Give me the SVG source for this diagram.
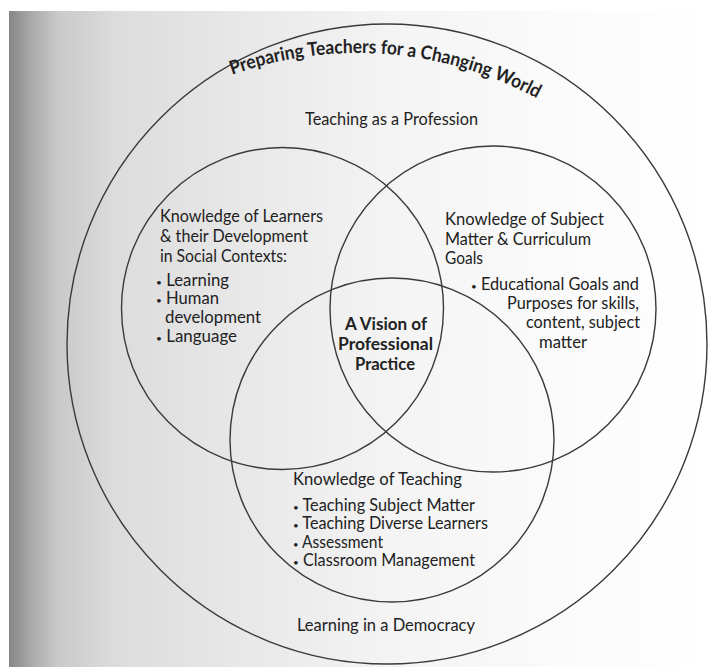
<svg xmlns="http://www.w3.org/2000/svg" width="711" height="667" viewBox="0 0 711 667">
  <defs>
    <linearGradient id="page" x1="9" y1="0" x2="711" y2="0" gradientUnits="userSpaceOnUse">
      <stop offset="0" stop-color="#858585"/>
      <stop offset="0.03" stop-color="#a8a8a8"/>
      <stop offset="0.07" stop-color="#c9c9c9"/>
      <stop offset="0.15" stop-color="#dcdcdc"/>
      <stop offset="0.35" stop-color="#e9e9e9"/>
      <stop offset="0.55" stop-color="#f4f4f4"/>
      <stop offset="0.8" stop-color="#fbfbfb"/>
      <stop offset="1" stop-color="#ffffff"/>
    </linearGradient>
    <path id="titleArc" d="M 232 74.8 A 375 375 0 0 1 537 98.5"/>
  </defs>
  <style>
    .ring { fill: none; stroke: #3a3a3a; stroke-width: 1.4; }
    .t { font-family: Lato, "Open Sans", "Liberation Sans", sans-serif; font-size: 16.5px; fill: #222222; }
    .b { font-weight: bold; }
    .dot { font-size: 10px; }
    .title { font-family: Lato, "Open Sans", "Liberation Sans", sans-serif; font-size: 19px; font-weight: bold; fill: #222222; }
  </style>

  <rect width="711" height="667" fill="#ffffff"/>
  <rect x="9" y="11" width="702" height="656" fill="url(#page)"/>

  <g id="world">
    <circle class="ring" cx="387" cy="344" r="320"/>
    <text class="title"><textPath href="#titleArc" textLength="315" lengthAdjust="spacingAndGlyphs">Preparing Teachers for a Changing World</textPath></text>
    <text class="t" x="305" y="125" textLength="173" lengthAdjust="spacingAndGlyphs">Teaching as a Profession</text>
    <text class="t" x="297" y="631" textLength="178" lengthAdjust="spacingAndGlyphs">Learning in a Democracy</text>
  </g>

  <g id="learners">
    <circle class="ring" cx="282.5" cy="308.5" r="161"/>
    <text class="t" x="160" y="222" textLength="163" lengthAdjust="spacingAndGlyphs">Knowledge of Learners</text>
    <text class="t" x="160" y="241.5" textLength="148" lengthAdjust="spacingAndGlyphs">&amp; their Development</text>
    <text class="t" x="160" y="261.5" textLength="127" lengthAdjust="spacingAndGlyphs">in Social Contexts:</text>
    <text class="t" x="156" y="285.5" textLength="73" lengthAdjust="spacingAndGlyphs"><tspan class="dot">•</tspan> Learning</text>
    <text class="t" x="156" y="303.5" textLength="63" lengthAdjust="spacingAndGlyphs"><tspan class="dot">•</tspan> Human</text>
    <text class="t" x="165" y="322.5" textLength="96" lengthAdjust="spacingAndGlyphs">development</text>
    <text class="t" x="156" y="341.5" textLength="81" lengthAdjust="spacingAndGlyphs"><tspan class="dot">•</tspan> Language</text>
  </g>

  <g id="subject">
    <circle class="ring" cx="493" cy="309" r="163"/>
    <text class="t" x="445" y="225" textLength="159" lengthAdjust="spacingAndGlyphs">Knowledge of Subject</text>
    <text class="t" x="445" y="245" textLength="146" lengthAdjust="spacingAndGlyphs">Matter &amp; Curriculum</text>
    <text class="t" x="445" y="264" textLength="38" lengthAdjust="spacingAndGlyphs">Goals</text>
    <text class="t" x="471" y="290" textLength="168" lengthAdjust="spacingAndGlyphs"><tspan class="dot">•</tspan> Educational Goals and</text>
    <text class="t" x="507" y="308.5" textLength="132" lengthAdjust="spacingAndGlyphs">Purposes for skills,</text>
    <text class="t" x="526" y="327.5" textLength="114" lengthAdjust="spacingAndGlyphs">content, subject</text>
    <text class="t" x="539" y="347.5" textLength="48" lengthAdjust="spacingAndGlyphs">matter</text>
  </g>

  <g id="teaching">
    <circle class="ring" cx="392" cy="440" r="162"/>
    <text class="t" x="293" y="485" textLength="169" lengthAdjust="spacingAndGlyphs">Knowledge of Teaching</text>
    <text class="t" x="293" y="510.5" textLength="182" lengthAdjust="spacingAndGlyphs"><tspan class="dot">•</tspan> Teaching Subject Matter</text>
    <text class="t" x="293" y="529" textLength="195" lengthAdjust="spacingAndGlyphs"><tspan class="dot">•</tspan> Teaching Diverse Learners</text>
    <text class="t" x="293" y="547.5" textLength="90" lengthAdjust="spacingAndGlyphs"><tspan class="dot">•</tspan> Assessment</text>
    <text class="t" x="293" y="566" textLength="182" lengthAdjust="spacingAndGlyphs"><tspan class="dot">•</tspan> Classroom Management</text>
  </g>

  <g id="vision">
    <text class="t b" x="345" y="330" textLength="82" lengthAdjust="spacingAndGlyphs">A Vision of</text>
    <text class="t b" x="338" y="350" textLength="95" lengthAdjust="spacingAndGlyphs">Professional</text>
    <text class="t b" x="355" y="370" textLength="60" lengthAdjust="spacingAndGlyphs">Practice</text>
  </g>

  <g id="connectors"/>
</svg>
